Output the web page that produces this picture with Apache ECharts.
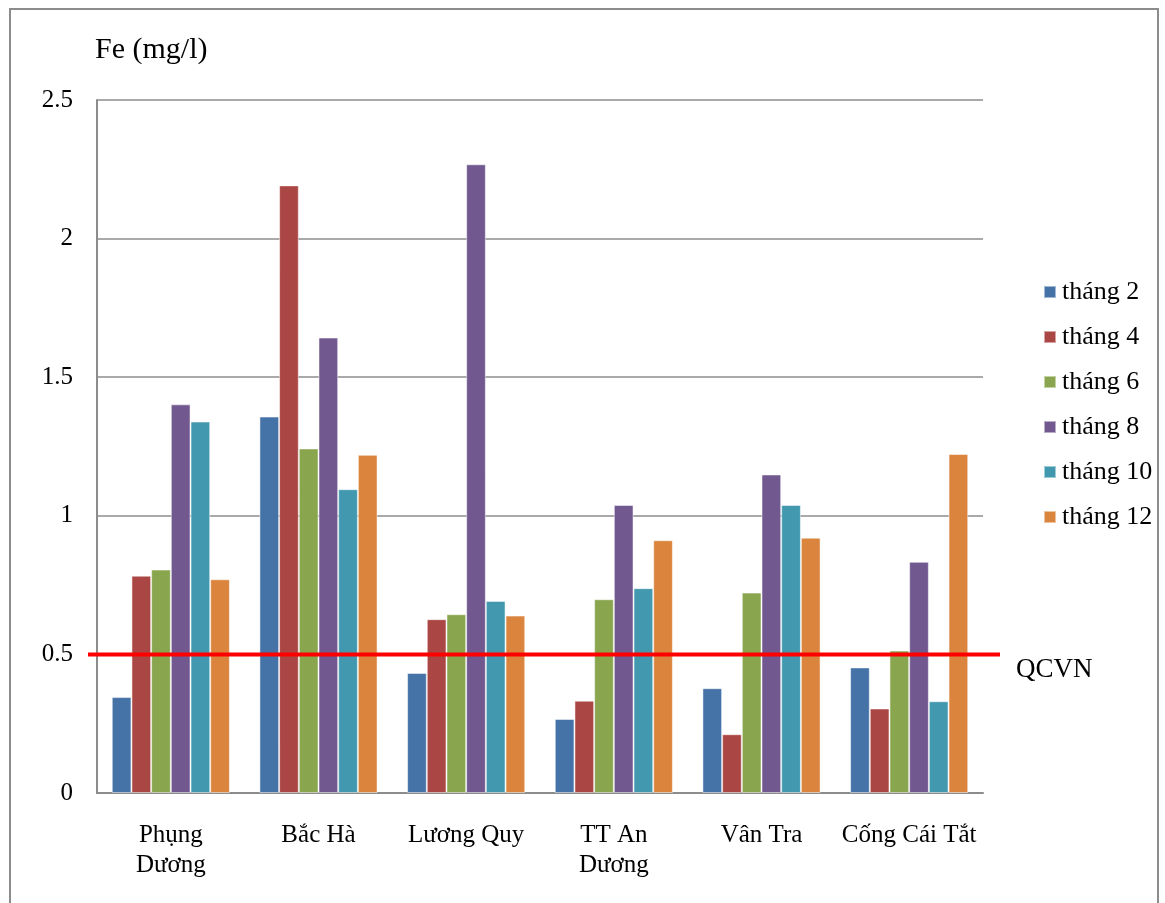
<!DOCTYPE html>
<html>
<head>
<meta charset="utf-8">
<script src="https://cdn.jsdelivr.net/npm/echarts@6/dist/echarts.min.js"></script>
<style>
  html, body { margin: 0; padding: 0; background: #fff; }
  #chart { width: 1165px; height: 903px; }
</style>
</head>
<body>
<div id="chart"></div>
<script>
const sites = ['Phụng\nDương', 'Bắc Hà', 'Lương Quy', 'TT An\nDương', 'Vân Tra', 'Cống Cái Tắt']
const months = ['tháng 2', 'tháng 4', 'tháng 6', 'tháng 8', 'tháng 10', 'tháng 12']
const colors = ['#4572A7', '#AA4643', '#89A54E', '#71588F', '#4198AF', '#DB843D']

// Fe values per month, one entry per site
const thang2  = [0.346, 1.358, 0.433, 0.267, 0.378, 0.453]
const thang4  = [0.784, 2.192, 0.627, 0.333, 0.212, 0.305]
const thang6  = [0.806, 1.243, 0.645, 0.699, 0.723, 0.514]
const thang8  = [1.402, 1.643, 2.268, 1.039, 1.149, 0.834]
const thang10 = [1.340, 1.096, 0.693, 0.739, 1.039, 0.331]
const thang12 = [0.771, 1.220, 0.640, 0.912, 0.921, 1.223]
const seriesData = [thang2, thang4, thang6, thang8, thang10, thang12]

const qcvn = 0.5
const qcvnLine = [[0, qcvn], [1, qcvn]]

const font = "'Liberation Serif', 'DejaVu Serif', serif"
const gray = '#8c8c8c'

const chart = echarts.init(document.getElementById('chart'))
chart.setOption({
  animation: false,
  textStyle: { fontFamily: font, color: '#000' },
  title: { text: 'Fe (mg/l)', left: 90, top: 30, textStyle: { fontFamily: font, fontSize: 30, fontWeight: 'normal', color: '#000' } },
  graphic: [{ type: 'rect', shape: { x: 10, y: 9, width: 1148, height: 930 }, style: { fill: 'none', stroke: gray, lineWidth: 2 }, silent: true }],
  legend: {
    orient: 'vertical', left: 1038, top: 274,
    itemWidth: 12, itemHeight: 12, itemGap: 19,
    icon: 'rect',
    data: months,
    textStyle: { fontFamily: font, fontSize: 26, color: '#000', lineHeight: 26, padding: [0, 0, 0, 1] }
  },
  grid: [
    { left: 97, right: 182, top: 100, bottom: 110 },
    { left: 88, right: 165, top: 100, bottom: 110 }
  ],
  xAxis: [
    {
      type: 'category', data: sites, gridIndex: 0,
      axisLine: { lineStyle: { color: gray, width: 2 } },
      axisTick: { show: false },
      axisLabel: { color: '#000', fontFamily: font, fontSize: 25, lineHeight: 30, margin: 27, interval: 0 }
    },
    { type: 'value', gridIndex: 1, min: 0, max: 1, show: false }
  ],
  yAxis: [
    {
      type: 'value', gridIndex: 0, min: 0, max: 2.5, interval: 0.5,
      axisLine: { show: true, lineStyle: { color: gray, width: 2 } },
      axisTick: { show: false },
      splitLine: { lineStyle: { color: gray, width: 1.5 } },
      axisLabel: { color: '#000', fontFamily: font, fontSize: 25, margin: 24 }
    },
    { type: 'value', gridIndex: 1, min: 0, max: 2.5, show: false }
  ],
  series: seriesData.map((d, i) => ({
    name: months[i], type: 'bar', data: d,
    xAxisIndex: 0, yAxisIndex: 0,
    barGap: '0%', barCategoryGap: '20%',
    itemStyle: { color: colors[i], borderColor: 'rgba(255,255,255,0.5)', borderWidth: 1 }
  })).concat([{
    name: 'QCVN', type: 'line', data: qcvnLine,
    xAxisIndex: 1, yAxisIndex: 1,
    showSymbol: false, z: 10,
    lineStyle: { color: '#ff0000', width: 4 },
    endLabel: { show: true, formatter: 'QCVN', offset: [8, 16], fontFamily: font, fontSize: 27, color: '#000' }
  }])
})
</script>
</body>
</html>
